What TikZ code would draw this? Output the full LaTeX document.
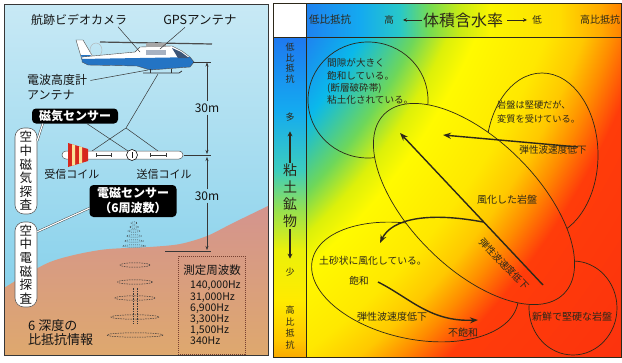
\documentclass[tikz,border=0pt]{standalone}
\usepackage{fontspec}
\setmainfont{Noto Sans CJK JP}
\usetikzlibrary{calc,arrows.meta}

% survey scene colours
\definecolor{skytop}{RGB}{200,233,245}
\definecolor{skybot}{RGB}{122,204,233}
\definecolor{soiltop}{RGB}{212,148,142}
\definecolor{soilbot}{RGB}{222,168,110}
\definecolor{heliblue}{RGB}{36,116,196}
\definecolor{heliglass}{RGB}{60,85,120}
\definecolor{ink}{RGB}{20,20,20}
\definecolor{wire}{RGB}{55,55,55}
\definecolor{boxbrown}{RGB}{120,65,50}
\definecolor{chartink}{RGB}{45,40,25}
\definecolor{droguered}{RGB}{215,40,30}
\definecolor{drogueyel}{RGB}{250,225,150}

% header band (water content axis)
\definecolor{hA}{RGB}{30,130,240}
\definecolor{hB}{RGB}{20,170,240}
\definecolor{hC}{RGB}{40,200,200}
\definecolor{hD}{RGB}{120,220,80}
\definecolor{hE}{RGB}{200,235,20}
\definecolor{hF}{RGB}{250,245,0}
\definecolor{hG}{RGB}{255,220,0}
\definecolor{hH}{RGB}{255,170,0}
\definecolor{hI}{RGB}{255,130,0}
% side band (clay mineral axis), bottom to top
\definecolor{cA}{RGB}{250,170,0}
\definecolor{cB}{RGB}{255,200,0}
\definecolor{cC}{RGB}{255,235,0}
\definecolor{cD}{RGB}{235,240,10}
\definecolor{cE}{RGB}{150,225,80}
\definecolor{cF}{RGB}{60,205,190}
\definecolor{cG}{RGB}{20,170,240}
\definecolor{cH}{RGB}{30,120,240}
% resistivity field, by distance from a point far above the chart's top-left
\definecolor{fA}{RGB}{30,130,240}
\definecolor{fB}{RGB}{10,185,235}
\definecolor{fC}{RGB}{110,215,90}
\definecolor{fD}{RGB}{220,240,10}
\definecolor{fE}{RGB}{255,250,0}
\definecolor{fF}{RGB}{255,232,0}
\definecolor{fG}{RGB}{255,200,0}
\definecolor{fH}{RGB}{255,140,0}
\definecolor{fI}{RGB}{255,60,10}
\definecolor{fK}{RGB}{250,45,15}

\pgfdeclarehorizontalshading{headband}{100bp}{color(0bp)=(hA); color(25bp)=(hA); color(33.6bp)=(hB); color(39.9bp)=(hC); color(44.7bp)=(hD); color(49.4bp)=(hE); color(54.2bp)=(hF); color(65.3bp)=(hG); color(71.7bp)=(hH); color(75bp)=(hI); color(100bp)=(hI)}
\pgfdeclareverticalshading{sideband}{100bp}{color(0bp)=(cA); color(25bp)=(cA); color(27.7bp)=(cB); color(33.9bp)=(cC); color(41.7bp)=(cD); color(48bp)=(cE); color(54.2bp)=(cF); color(63.6bp)=(cG); color(75bp)=(cH); color(100bp)=(cH)}
% 1bp of this shading = 40 px of the chart when shaded on a 2000-wide square
\pgfdeclareradialshading{fieldglow}{\pgfpointorigin}{color(0bp)=(fA); color(12.1bp)=(fA); color(13.3bp)=(fB); color(14.5bp)=(fC); color(15.25bp)=(fD); color(15.9bp)=(fE); color(17.5bp)=(fF); color(18.4bp)=(fG); color(19.1bp)=(fH); color(19.9bp)=(fI); color(25bp)=(fK); color(50bp)=(fK)}

\newcommand{\fieldshade}{%
  \shade[shading=fieldglow] (-1109,-1213) rectangle (891,787);}

\begin{document}
\begin{tikzpicture}[x=1pt,y=-1pt,
  lbltext/.style={inner sep=0pt, text=ink, font=\fontsize{12}{14}\selectfont},
  blackbox/.style={fill=black, text=white, rounded corners=4pt, align=center,
    font=\bfseries\fontsize{12}{15}\selectfont},
  pillar/.style={draw=gray!75!black, fill=white, rounded corners=9pt, line width=0.6pt,
    minimum width=22pt, inner xsep=1pt, inner ysep=1pt, align=center, text=ink,
    font=\fontsize{12.5}{13.6}\selectfont},
  leader/.style={draw=wire, line width=0.5pt},
  dbl/.style={draw=wire, line width=0.4pt, double=white, double distance=1.2pt},
  dimtip/.style={draw=wire, line width=0.5pt, -{Stealth[length=4pt,width=3pt]}},
  charttext/.style={inner sep=0pt, text=chartink, font=\fontsize{9.6}{12.3}\selectfont},
  rim/.style={draw=chartink, line width=0.7pt},
  flowarrow/.style={draw=chartink, line width=1.4pt, -{Stealth[length=8pt,width=6pt]}},
  hdarrow/.style={draw=chartink, line width=0.8pt, -{Stealth[length=4pt,width=3.5pt]}},
  sidearrow/.style={draw=chartink, line width=1.8pt, -{Stealth[length=5pt,width=5pt]}},
]
\useasboundingbox[fill=white] (0,0) rectangle (622,362);

%% ---------------- airborne survey scene ----------------
\shade[top color=skytop, bottom color=skybot] (4,4) rectangle (268,355);
\shade[top color=soiltop, bottom color=soilbot]
  plot[smooth] coordinates {(4,288) (50,262) (100,250) (150,247) (180,244) (207,236) (233,223) (268,206)}
  -- (268,355) -- (4,355) -- cycle;
\draw[wire, line width=0.8pt] (4,4) rectangle (268,355);

% helicopter
\draw[gray!60!black, line width=1.2pt] (100,42) -- (212,44);
\fill[gray!40!black] (155,42) rectangle (158,47);
\filldraw[fill=white, draw=gray!60!black, line width=0.4pt]
  (76,40) -- (83,40) -- (93,57) -- (85,63) -- (82,60) -- cycle;
\fill[heliblue] (81,55) -- (90,55) -- (93,57) -- (85,63) -- (82,60) -- cycle;
\draw[gray!60, line width=0.4pt] (96,50) ellipse [x radius=6, y radius=7];
\begin{scope}
  \clip (82,57) -- (135,52) -- (140,47) -- (172,46) -- (182,51) -- (190,57) -- (194,62)
     -- (190,67) -- (150,70) -- (137,66) -- (88,65) -- (82,62) -- cycle;
  \fill[white] (80,40) rectangle (200,75);
  \fill[heliblue] (80,59) -- (200,57) -- (200,75) -- (80,75) -- cycle;
\end{scope}
\draw[gray!60!black, line width=0.4pt]
  (82,57) -- (135,52) -- (140,47) -- (172,46) -- (182,51) -- (190,57) -- (194,62)
     -- (190,67) -- (150,70) -- (137,66) -- (88,65) -- (82,62) -- cycle;
\fill[gray!70] (146,43) rectangle (166,47);
\fill[heliglass] (172,48) -- (181,52) -- (189,58) -- (178,58) -- cycle;
\fill[heliglass!45!white] (146,50) rectangle (166,55);
\draw[gray!40!black, line width=0.8pt] (143,73) -- (179,73) -- (182,71);
\draw[gray!40!black, line width=0.6pt] (150,69) -- (150,73) (171,69) -- (171,73);

% equipment labels on the helicopter
\coordinate (campt) at (140,52);
\coordinate (gpspt) at (160,49);
\coordinate (altpt) at (148,70);
\node[lbltext] (camera) at (79,20) {航跡ビデオカメラ};
\node[lbltext, font=\fontsize{12.5}{14}\selectfont] (gps) at (200,20) {GPSアンテナ};
\node[lbltext, align=left, anchor=west, font=\fontsize{12}{15}\selectfont] (radalt) at (27,87.5) {電波高度計\\アンテナ};
\draw[leader] ($(camera.south)+(39,1)$) -- (campt);
\draw[leader] ($(gps.south)+(-15,2)$) -- (gpspt);
\draw[leader] ($(radalt.north east)+(3,6)$) -- (altpt);

% towed sensor bird
\coordinate (tow) at (158,74);
\coordinate (split) at (126,128);
\coordinate (lend) at (92,151);
\coordinate (rend) at (158,151);
\draw[leader] (tow) -- (split) -- (lend);
\draw[leader] (split) -- (rend);
\draw[draw=gray!70!black, fill=white, line width=0.5pt, rounded corners=4pt] (62,151) rectangle (183,159);
\fill[droguered] (68,143) -- (88,149) -- (88,161) -- (68,167) -- cycle;
\fill[drogueyel] (72,144.2) -- (75,145.1) -- (75,164.9) -- (72,165.8) -- cycle;
\fill[drogueyel] (79,146.3) -- (82,147.2) -- (82,162.8) -- (79,163.7) -- cycle;
\draw[wire, line width=0.4pt] (96,155) -- (111,155) (96,153) -- (96,157) (111,153) -- (111,157);
\draw[wire, line width=0.4pt] (150,155) -- (166,155) (150,153) -- (150,157) (166,153) -- (166,157);
\node[circle, draw=ink, fill=white, line width=0.6pt, minimum size=11pt, inner sep=0pt] (magsens) at (132,155) {};
\draw[ink, line width=0.9pt] (magsens.center) ++(0,-3) -- ++(0,6);

\node[blackbox, minimum width=86pt, minimum height=15pt, inner sep=1.5pt] (magbox) at (75,116) {磁気センサー};
\node[blackbox, minimum width=87pt, minimum height=32pt, inner sep=2pt] (embox) at (133,201) {電磁センサー\\（6周波数）};
\draw[leader] ($(magbox.south)+(12,0)$) -- (magsens.north west);

\node[lbltext, font=\fontsize{11}{13}\selectfont] (rxcoil) at (72,174) {受信コイル};
\node[lbltext, font=\fontsize{11}{13}\selectfont] (txcoil) at (164,174) {送信コイル};

\node[pillar, minimum height=86pt] (aeromag) at (26,171) {空\\中\\磁\\気\\探\\査};
\node[pillar, minimum height=85pt] (aeroem) at (26,264.5) {空\\中\\電\\磁\\探\\査};
\draw[dbl] ($(magbox.south west)+(11,0)$) -- ($(aeromag.north east)+(0,13)$);
\draw[dbl] ($(embox.south west)+(0,-9)$) -- ($(aeroem.north east)+(0,10)$);

% 30 m height dimensions
\draw[leader] (193,62) -- (211,62);
\draw[leader] (184,155) -- (211,155);
\draw[leader] (165,251) -- (211,251);
\node[lbltext, inner sep=2pt] (dimA) at (207,108) {30m};
\node[lbltext, inner sep=2pt] (dimB) at (207,196) {30m};
\coordinate (dimAtop) at (207,62.5);
\coordinate (dimAbot) at (207,154);
\coordinate (dimBtop) at (207,157);
\coordinate (dimBbot) at (207,250);
\draw[dimtip] (dimA) -- (dimAtop);
\draw[dimtip] (dimA) -- (dimAbot);
\draw[dimtip] (dimB) -- (dimBtop);
\draw[dimtip] (dimB) -- (dimBbot);

% emitted field and the six sounding depths
\foreach \yy/\ww in {223/3, 227/4.5, 231/6, 236/7.5, 241/9.5, 246/11.5}
  \draw[wire, line width=0.45pt, dash pattern=on 1pt off 1pt] (134,\yy) ellipse [x radius=\ww, y radius=1.2];
\foreach \yy/\ww in {265/15, 282/17.5, 298/20, 317/24, 335/28}
  \draw[wire, line width=0.5pt, dash pattern=on 1.5pt off 1pt] (135,\yy) ellipse [x radius=\ww, y radius=2.2];
\draw[wire, line width=0.5pt, dash pattern=on 1.5pt off 1pt] (133,288) -- (133,324) (137,288) -- (137,324);

\node[lbltext, align=left, anchor=west, font=\fontsize{13}{14}\selectfont] (depth) at (28,333) {6 深度の\\比抵抗情報};

\node[draw=boxbrown, dash pattern=on 1.2pt off 0.8pt, line width=0.5pt, minimum width=67pt,
  minimum height=98pt, inner sep=0pt, anchor=north west] (freqbox) at (178,256) {};
\node[lbltext, font=\fontsize{11.5}{14}\selectfont] (freqtitle) at (212,270) {測定周波数};
\node[lbltext, anchor=north west, align=left, font=\fontsize{10.5}{11.2}\selectfont] (freqlist) at (190,281)
  {140,000Hz\\31,000Hz\\6,900Hz\\3,300Hz\\1,500Hz\\340Hz};

%% ---------------- ground classification chart ----------------
\fill[white] (273,3) rectangle (306,37);
\shade[shading=headband] (306,3) rectangle (621,37);
\shade[shading=sideband] (273,37) rectangle (306,357);
\begin{scope}
  \clip (306,37) rectangle (621,357);
  \fieldshade
  \draw[rim] (368,100) ellipse [x radius=60, y radius=58];
  \draw[rim] (542,155) ellipse [x radius=56, y radius=82];
  \draw[rim, shift={(415,282)}, rotate=-12] (0,0) ellipse [x radius=105, y radius=57];
  \draw[rim] (573,308) ellipse [x radius=44, y radius=47];
  % weathered-rock zone lies over the others
  \begin{scope}
    \clip[shift={(474,204)}, rotate=-45] (0,0) ellipse [x radius=127, y radius=64];
    \fieldshade
  \end{scope}
  \draw[rim, shift={(474,204)}, rotate=-45] (0,0) ellipse [x radius=127, y radius=64];
\end{scope}
\draw[chartink, line width=0.8pt] (273,3) rectangle (621,357);
\draw[chartink, line width=0.8pt] (273,37) -- (621,37) (306,3) -- (306,357);

% header
\node[charttext, font=\fontsize{10.5}{12}\selectfont] (lowres) at (330,20) {低比抵抗};
\node[charttext, font=\fontsize{9.5}{12}\selectfont] (wet) at (389,20) {高};
\node[charttext, font=\fontsize{16}{18}\selectfont] (vwc) at (463,20) {体積含水率};
\node[charttext, font=\fontsize{9.5}{12}\selectfont] (dry) at (537,20) {低};
\node[charttext, font=\fontsize{10}{12}\selectfont] (highres) at (600,20) {高比抵抗};
\draw[hdarrow, shorten <=1pt, shorten >=9pt] (vwc.west) -- (wet.east);
\draw[hdarrow, shorten <=4pt, shorten >=5pt] (vwc.east) -- (dry.west);

% side column
\node[charttext, align=center, font=\fontsize{9}{10.7}\selectfont] (lowresv) at (290,63) {低\\比\\抵\\抗};
\node[charttext, font=\fontsize{9}{11}\selectfont] (many) at (290,117) {多};
\node[charttext, align=center, font=\fontsize{14}{17}\selectfont] (mineral) at (290,196) {粘\\土\\鉱\\物};
\node[charttext, font=\fontsize{9}{11}\selectfont] (few) at (290,272) {少};
\node[charttext, align=center, font=\fontsize{9}{11.7}\selectfont] (highresv) at (290,327.5) {高\\比\\抵\\抗};
\draw[sidearrow, shorten <=1pt, shorten >=10pt] (mineral.north) -- (many.south);
\draw[sidearrow, shorten <=1pt, shorten >=9pt] (mineral.south) -- (few.north);

% zone descriptions
\node[charttext, align=left, anchor=west] (clayzone) at (327,81.5)
  {間隙が大きく\\飽和している。\\(断層破砕帯)\\粘土化されている。};
\node[charttext, align=left, anchor=west, font=\fontsize{9.2}{14}\selectfont] (altered) at (497,112)
  {岩盤は堅硬だが、\\変質を受けている。};
\node[charttext] (vdropA) at (553,150) {弾性波速度低下};
\node[charttext, font=\fontsize{10}{12}\selectfont] (weathered) at (507,200) {風化した岩盤};
\node[charttext, rotate=-46.7] (vdropB) at (504,264) {弾性波速度低下};
\node[charttext, font=\fontsize{9.8}{12}\selectfont] (soily) at (373,261) {土砂状に風化している。};
\node[charttext] (sat) at (359,281) {飽和};
\node[charttext, font=\fontsize{10}{12}\selectfont] (vdropC) at (392,317) {弾性波速度低下};
\node[charttext, font=\fontsize{10}{12}\selectfont] (unsat) at (463,333) {不飽和};
\node[charttext, font=\fontsize{10}{12}\selectfont] (fresh) at (572,317) {新鮮で堅硬な岩盤};

% trends of decreasing seismic velocity
\coordinate (alterStart) at (578,147);
\coordinate (alterEnd) at (443,135);
\coordinate (weathStart) at (543,285);
\coordinate (weathEnd) at (400,133);
\coordinate (soilStart) at (483,222);
\coordinate (soilEnd) at (380,243);
\coordinate (satStart) at (378,282);
\coordinate (satEnd) at (478,320);
\draw[flowarrow] (alterStart) -- (alterEnd);
\draw[flowarrow] (weathStart) -- (weathEnd);
\draw[flowarrow] (soilStart) .. controls (430,212) and (392,218) .. (soilEnd);
\draw[flowarrow] (satStart) .. controls (410,298) and (430,322) .. (satEnd);
\end{tikzpicture}
\end{document}
